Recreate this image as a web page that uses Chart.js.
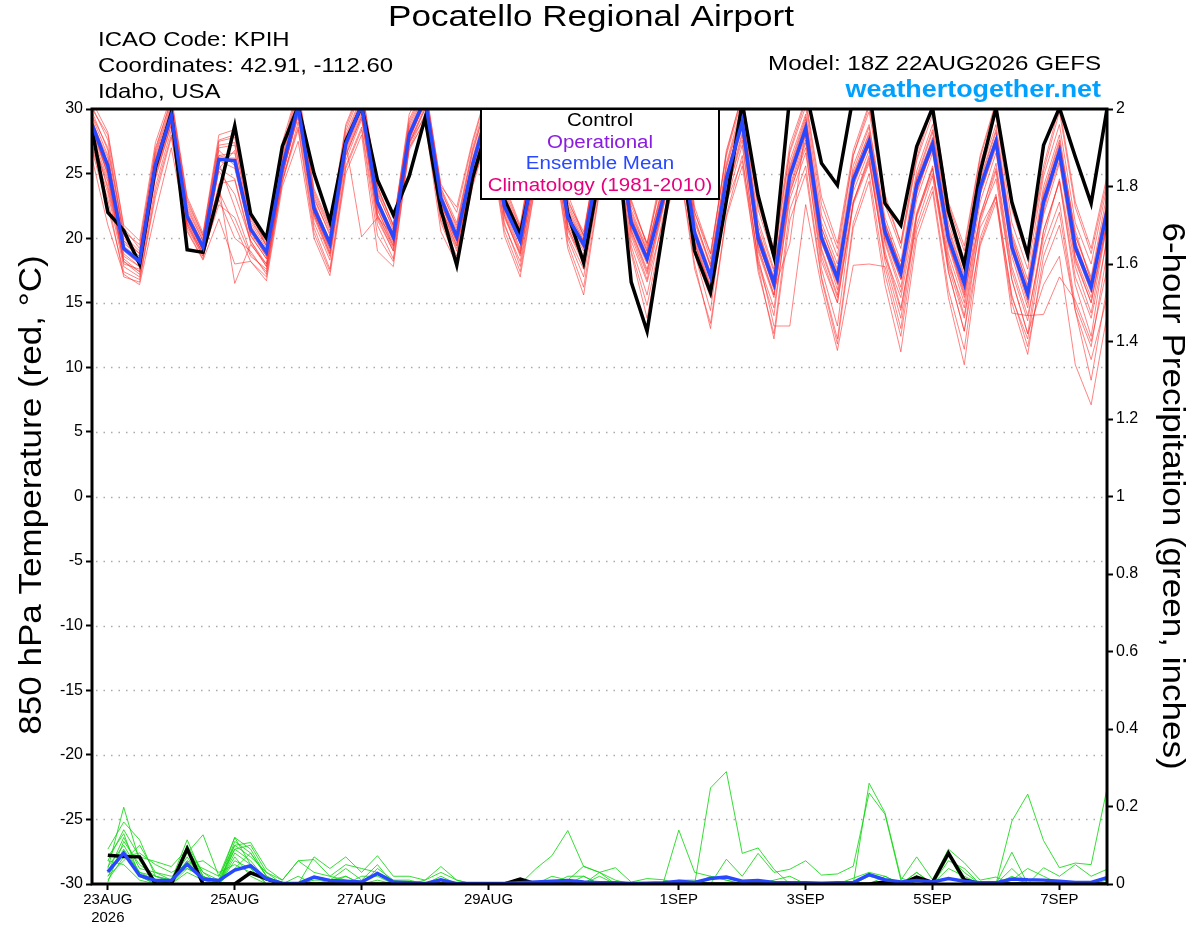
<!DOCTYPE html>
<html>
<head>
<meta charset="utf-8">
<script src="https://cdn.jsdelivr.net/npm/chart.js@4.4.0/dist/chart.umd.min.js"></script>
<style>
body { margin: 0; background: #fff; }
canvas { display: block; }
</style>
</head>
<body>
<canvas id="myChart" width="1200" height="927"></canvas>
<script>
// 6-hourly steps from 18Z 22AUG (step 0) to 18Z 7SEP (step 64)
const dateTickSteps = [1, 9, 17, 25, 37, 45, 53, 61];
const dateTickLabels = [["23AUG", "2026"], "25AUG", "27AUG", "29AUG", "1SEP", "3SEP", "5SEP", "7SEP"];

// 850 hPa temperature (C), steps 0..64
const controlTemp = [28.4,
	22.0, 20.6, 18.0, 25.5, 29.7, 19.1, 18.9, 23.5, 28.7, 21.9, 20.0, 27.1, 30.2, 25.0, 21.3, 27.5,
	30.2, 24.5, 21.8, 24.8, 29.3, 22.2, 17.9, 24.7, 28.8, 23.0, 20.3, 26.0, 29.5, 21.9, 18.1, 25.0,
	29.0, 16.6, 12.8, 20.6, 28.0, 19.0, 15.8, 22.9, 30.5, 23.3, 18.6, 31.0, 31.5, 25.8, 24.1, 31.0,
	31.5, 22.7, 21.0, 27.1, 30.1, 22.1, 17.9, 25.1, 30.1, 22.8, 18.7, 27.2, 30.1, 26.3, 22.7, 30.0];

const meanTemp = [28.8,
	25.6, 19.2, 18.2, 25.7, 29.5, 21.7, 19.3, 26.1, 26.0, 20.7, 18.9, 25.5, 30.2, 22.3, 19.6, 27.3,
	30.3, 22.8, 20.1, 28.0, 30.8, 23.1, 20.1, 25.7, 30.0, 22.5, 19.8, 26.5, 29.5, 21.6, 19.5, 26.0,
	29.2, 21.2, 18.4, 23.0, 28.5, 20.4, 17.0, 24.6, 29.0, 20.0, 16.5, 24.8, 28.5, 20.0, 16.9, 24.5,
	27.5, 20.5, 17.3, 24.1, 27.3, 20.0, 16.5, 23.9, 27.5, 19.3, 15.7, 22.8, 26.7, 19.3, 16.2, 22.1];

const memberTemps = [
	[29.5, 27.0, 20.5, 19.5, 26.8, 30.8, 22.8, 20.2, 27.5, 27.8, 21.8, 19.6, 26.8, 31.2, 23.4, 20.6, 28.3, 31.4, 23.8, 21.0, 29.0, 31.6, 23.9, 21.2, 27.0, 31.2, 23.6, 20.8, 27.8, 30.8, 22.8, 20.5, 27.4, 30.6, 22.5, 19.6, 24.8, 30.2, 22.0, 18.8, 26.4, 30.8, 22.2, 18.4, 26.6, 30.2, 21.8, 18.6, 26.4, 29.8, 22.6, 19.2, 26.0, 29.6, 22.0, 18.4, 25.8, 29.6, 21.2, 17.6, 24.8, 28.8, 21.2, 18.0, 24.0],
	[27.2, 23.5, 17.8, 17.0, 24.0, 28.4, 20.8, 18.6, 24.2, 24.5, 19.6, 17.8, 24.3, 29.0, 21.2, 18.3, 26.0, 29.2, 21.6, 19.0, 27.0, 29.6, 22.0, 19.0, 24.4, 28.8, 21.0, 18.2, 25.0, 28.0, 20.2, 17.6, 24.6, 27.8, 19.8, 16.6, 21.2, 26.8, 18.8, 15.4, 22.8, 27.2, 18.2, 14.6, 23.0, 26.6, 18.2, 15.0, 22.6, 25.8, 18.6, 15.4, 22.0, 25.4, 18.0, 14.6, 21.8, 25.4, 17.4, 13.6, 20.6, 24.4, 17.0, 13.8, 19.8],
	[28.0, 24.6, 18.4, 17.4, 25.0, 29.2, 21.4, 19.0, 25.4, 26.8, 20.4, 18.6, 25.2, 30.0, 22.0, 19.2, 27.0, 30.0, 22.4, 19.8, 27.8, 30.4, 22.8, 19.6, 25.2, 29.6, 22.0, 19.0, 25.8, 29.0, 21.0, 18.6, 25.2, 28.6, 20.6, 17.6, 22.4, 27.8, 19.6, 16.2, 23.6, 28.2, 19.2, 15.6, 23.8, 27.6, 19.0, 15.4, 22.8, 26.4, 19.0, 14.6, 21.0, 24.8, 17.4, 12.8, 19.6, 23.2, 15.6, 11.6, 17.8, 21.0, 14.4, 10.6, 15.4],
	[28.6, 25.0, 19.0, 18.0, 25.4, 29.6, 21.6, 19.4, 26.0, 25.4, 20.2, 18.4, 25.6, 30.4, 22.4, 19.8, 27.6, 30.6, 23.0, 20.4, 28.4, 31.0, 23.4, 20.6, 26.2, 30.6, 22.8, 20.2, 27.0, 30.2, 22.2, 19.8, 26.6, 29.8, 21.8, 19.0, 24.2, 29.6, 21.2, 17.8, 25.4, 29.8, 20.6, 17.0, 25.2, 29.0, 20.8, 17.4, 25.0, 28.0, 21.0, 17.8, 24.0, 26.8, 19.6, 15.6, 21.6, 24.6, 16.8, 12.6, 16.4, 18.6, 10.2, 7.1, 14.0],
	[29.0, 26.2, 19.6, 18.6, 26.2, 30.0, 22.0, 19.6, 24.0, 16.5, 19.5, 18.0, 24.8, 29.8, 22.0, 19.2, 27.2, 30.2, 22.6, 19.8, 27.6, 30.6, 22.6, 20.0, 25.6, 30.2, 22.4, 19.6, 26.4, 29.6, 21.2, 19.0, 26.0, 29.4, 21.4, 18.6, 23.4, 29.0, 20.4, 17.2, 24.8, 29.4, 19.8, 16.0, 19.6, 28.6, 20.2, 16.6, 24.6, 27.8, 20.8, 17.4, 24.6, 27.6, 20.4, 16.6, 24.2, 27.8, 19.6, 15.8, 23.0, 27.2, 19.6, 16.4, 22.4],
	[26.2, 21.0, 17.2, 16.4, 22.0, 27.0, 20.5, 18.3, 21.5, 18.0, 18.2, 16.7, 24.0, 27.5, 20.0, 17.1, 25.0, 28.0, 19.0, 17.8, 27.0, 29.0, 20.5, 18.0, 24.0, 28.2, 20.2, 17.0, 24.4, 27.4, 19.2, 15.6, 23.6, 27.0, 18.8, 13.8, 20.6, 25.8, 17.6, 13.4, 21.8, 26.4, 17.4, 12.6, 22.2, 25.6, 17.0, 12.2, 21.2, 25.0, 17.2, 12.4, 20.6, 24.0, 16.0, 11.4, 20.0, 23.4, 15.4, 12.2, 19.4, 22.8, 14.8, 11.6, 18.8],
	[30.6, 28.2, 21.0, 19.8, 27.4, 31.0, 23.2, 20.4, 28.0, 28.4, 22.0, 19.4, 27.4, 31.6, 23.8, 21.0, 28.8, 31.8, 24.0, 21.0, 29.6, 32.0, 24.0, 22.4, 27.6, 31.8, 24.2, 21.0, 28.4, 31.4, 23.4, 20.2, 27.6, 31.2, 23.0, 19.4, 25.2, 30.8, 22.4, 18.8, 26.6, 31.2, 23.0, 19.2, 27.2, 30.8, 23.2, 19.6, 26.8, 30.4, 23.4, 19.6, 26.6, 30.4, 22.8, 19.4, 26.4, 30.6, 22.6, 18.6, 25.6, 30.2, 22.8, 19.2, 24.8],
	[28.2, 25.0, 18.0, 17.6, 25.0, 29.0, 21.0, 18.8, 22.6, 21.6, 18.6, 17.6, 25.0, 29.6, 21.6, 18.6, 26.8, 29.8, 22.2, 19.4, 27.4, 30.2, 22.4, 19.4, 25.0, 29.2, 21.6, 18.8, 25.4, 28.6, 20.6, 18.0, 24.8, 28.4, 20.2, 16.8, 22.2, 27.6, 19.2, 15.6, 22.8, 26.0, 18.6, 13.2, 13.2, 22.6, 16.2, 11.3, 17.9, 18.0, 17.8, 13.0, 21.6, 25.4, 18.4, 14.0, 21.6, 25.8, 17.8, 14.0, 20.0, 24.6, 17.8, 14.2, 21.0],
	[27.8, 24.0, 18.6, 17.8, 25.6, 29.4, 21.8, 19.0, 26.4, 26.6, 21.0, 19.0, 25.8, 30.2, 22.6, 19.8, 27.4, 20.1, 21.6, 20.2, 28.2, 30.8, 23.0, 20.0, 25.4, 30.0, 22.6, 19.6, 26.8, 29.8, 21.8, 19.6, 26.2, 29.2, 21.2, 18.6, 23.4, 28.6, 20.4, 16.8, 24.8, 29.0, 20.2, 16.6, 25.0, 28.6, 19.8, 16.4, 24.2, 27.2, 20.2, 16.8, 23.6, 27.0, 19.8, 15.8, 23.4, 27.0, 19.0, 15.0, 22.4, 26.0, 18.6, 15.4, 21.2],
	[29.2, 25.8, 19.4, 18.4, 25.8, 29.6, 21.6, 19.2, 26.2, 26.2, 20.8, 19.0, 25.4, 30.0, 22.2, 19.4, 27.2, 30.4, 22.6, 20.0, 28.0, 30.8, 23.2, 20.2, 25.8, 30.2, 22.4, 19.8, 26.4, 29.4, 21.4, 19.4, 25.8, 29.0, 21.0, 18.2, 22.8, 28.2, 20.2, 16.8, 24.4, 28.8, 19.6, 16.2, 24.4, 28.2, 19.6, 16.6, 24.0, 27.2, 20.0, 16.8, 23.8, 27.0, 19.6, 16.0, 23.4, 27.2, 19.2, 15.4, 22.6, 26.4, 19.0, 15.8, 21.8],
	[30.2, 27.6, 20.0, 18.8, 26.6, 30.4, 22.4, 19.8, 27.0, 27.2, 21.2, 19.2, 26.2, 30.8, 23.0, 20.4, 27.8, 30.8, 23.4, 20.8, 28.8, 31.4, 23.6, 21.0, 26.6, 31.0, 23.2, 20.6, 27.4, 30.6, 22.6, 20.2, 27.0, 30.2, 22.2, 19.2, 24.0, 29.8, 21.4, 18.0, 25.8, 30.4, 21.4, 17.6, 26.0, 29.6, 21.2, 18.0, 25.6, 28.8, 21.6, 18.2, 25.2, 28.8, 21.2, 17.6, 25.0, 28.8, 20.4, 16.8, 24.0, 28.0, 20.2, 17.0, 23.4],
	[26.8, 22.4, 17.4, 16.8, 23.2, 27.8, 21.0, 18.6, 23.0, 20.0, 19.0, 17.2, 24.6, 28.6, 20.8, 17.6, 25.6, 28.6, 21.0, 18.4, 27.4, 29.4, 21.4, 18.6, 24.4, 28.6, 21.2, 17.8, 25.0, 28.2, 20.0, 17.0, 24.2, 27.4, 19.4, 15.6, 21.6, 26.6, 18.8, 14.4, 23.4, 27.6, 18.0, 14.0, 23.6, 27.0, 17.6, 13.2, 22.8, 26.2, 18.2, 13.8, 21.8, 25.6, 17.4, 12.8, 21.2, 25.2, 16.8, 12.6, 20.6, 24.4, 16.4, 12.4, 20.2],
	[28.4, 25.2, 19.8, 18.8, 26.0, 29.8, 22.2, 19.8, 26.8, 25.6, 20.2, 18.4, 26.0, 30.6, 22.8, 19.6, 27.0, 30.0, 21.8, 19.4, 27.6, 30.6, 22.2, 19.8, 25.4, 30.4, 23.0, 20.4, 26.8, 30.0, 22.0, 19.8, 26.4, 29.6, 21.6, 18.8, 23.6, 28.8, 20.8, 17.4, 25.0, 29.4, 20.4, 16.8, 25.4, 29.2, 20.4, 17.2, 24.8, 28.2, 21.2, 17.8, 24.6, 28.2, 20.6, 17.0, 24.6, 28.4, 20.0, 16.4, 23.6, 27.6, 20.2, 16.8, 22.8],
	[27.6, 24.4, 18.2, 17.2, 24.6, 28.8, 21.2, 18.8, 25.2, 23.4, 19.8, 18.0, 25.0, 29.4, 21.8, 18.8, 26.4, 29.4, 21.4, 19.0, 27.2, 30.0, 22.0, 19.2, 24.8, 29.4, 21.8, 18.6, 25.4, 28.8, 20.8, 18.2, 25.0, 28.4, 20.4, 17.2, 22.4, 27.4, 19.6, 16.0, 23.2, 28.0, 19.0, 15.4, 23.4, 27.4, 18.6, 15.0, 22.8, 26.0, 18.6, 14.4, 21.8, 25.0, 17.8, 13.8, 20.8, 23.2, 14.2, 14.0, 14.1, 17.0, 15.2, 12.0, 17.6],
	[29.8, 26.8, 20.2, 19.0, 26.4, 30.2, 22.6, 20.0, 27.2, 27.4, 21.4, 19.4, 26.4, 31.0, 23.2, 20.2, 28.0, 31.0, 23.6, 20.6, 28.6, 31.2, 23.8, 20.8, 26.8, 30.8, 23.4, 20.6, 27.6, 30.4, 22.4, 20.0, 27.2, 30.0, 22.0, 19.0, 23.8, 29.4, 21.6, 17.8, 25.6, 30.0, 21.0, 17.4, 25.6, 29.4, 20.8, 17.6, 25.2, 28.6, 21.2, 17.6, 24.8, 28.4, 20.8, 17.2, 24.4, 28.2, 20.2, 16.2, 23.4, 27.4, 20.6, 16.6, 22.6],
	[28.8, 24.8, 18.8, 17.8, 25.2, 29.2, 21.4, 19.0, 25.8, 22.4, 18.8, 17.4, 25.2, 29.8, 22.0, 19.0, 26.6, 29.6, 22.2, 19.6, 27.8, 30.4, 22.6, 19.8, 25.6, 29.8, 22.2, 19.2, 26.2, 29.4, 21.4, 19.2, 26.0, 29.0, 20.8, 18.0, 23.0, 28.4, 20.0, 16.4, 24.2, 29.2, 20.4, 16.2, 24.6, 28.4, 20.0, 16.0, 24.4, 27.6, 19.8, 16.2, 23.4, 27.2, 19.4, 15.4, 23.6, 27.6, 19.6, 15.2, 22.0, 26.8, 18.4, 15.0, 21.0],
	[27.0, 23.0, 17.0, 16.6, 23.6, 28.0, 20.6, 18.4, 23.6, 21.0, 18.2, 17.0, 24.4, 28.4, 20.4, 17.4, 25.4, 28.4, 20.2, 18.2, 26.8, 29.2, 21.2, 18.2, 24.2, 28.4, 20.6, 17.4, 24.6, 27.6, 19.6, 16.2, 23.8, 26.8, 19.0, 14.8, 20.8, 26.0, 18.0, 13.0, 21.6, 25.6, 17.8, 12.2, 21.4, 25.0, 16.8, 11.8, 20.8, 24.4, 16.4, 11.2, 20.0, 23.6, 15.4, 10.2, 19.4, 22.8, 15.0, 11.0, 18.6, 22.0, 14.4, 9.0, 16.2],
	[29.4, 26.4, 19.8, 18.4, 25.6, 29.4, 21.8, 19.4, 26.4, 26.0, 20.6, 18.6, 25.6, 30.2, 22.6, 19.6, 27.4, 30.6, 23.0, 20.2, 28.2, 30.8, 23.2, 20.4, 26.0, 30.4, 22.8, 20.0, 26.6, 29.8, 21.8, 19.6, 26.4, 29.4, 21.6, 18.6, 23.2, 28.8, 20.6, 17.2, 24.8, 29.4, 20.6, 16.8, 25.0, 28.8, 20.2, 17.0, 24.6, 27.8, 20.8, 17.4, 24.2, 27.8, 20.2, 16.6, 24.0, 27.8, 19.8, 16.0, 23.2, 27.0, 19.8, 16.4, 22.4],
	[28.0, 23.8, 18.2, 17.4, 24.8, 28.8, 21.2, 18.8, 25.4, 24.6, 19.8, 17.8, 24.8, 29.6, 21.8, 18.8, 26.4, 29.4, 21.8, 19.2, 27.4, 30.0, 22.2, 19.4, 25.0, 29.4, 21.8, 18.8, 25.6, 29.0, 20.8, 18.2, 25.4, 28.8, 20.6, 17.4, 22.6, 28.0, 19.8, 16.2, 24.0, 28.6, 19.4, 15.6, 24.0, 28.0, 19.2, 15.6, 23.6, 26.8, 19.6, 15.8, 23.0, 26.6, 18.8, 15.0, 22.8, 26.6, 18.6, 14.6, 21.8, 25.8, 18.2, 15.0, 21.4],
	[30.0, 28.0, 20.8, 19.2, 27.0, 30.6, 23.0, 20.2, 27.6, 28.0, 21.6, 19.4, 27.0, 31.4, 23.6, 20.8, 28.6, 31.6, 24.0, 21.0, 29.2, 31.8, 24.2, 22.0, 27.4, 31.6, 24.0, 20.8, 28.0, 31.0, 23.0, 20.2, 27.8, 31.0, 22.8, 19.6, 25.6, 30.6, 22.0, 18.4, 26.8, 31.0, 22.6, 18.8, 26.8, 30.6, 22.6, 19.2, 26.4, 30.2, 23.0, 19.6, 26.2, 30.2, 22.6, 19.0, 26.2, 30.4, 22.2, 18.4, 25.2, 29.8, 22.4, 18.8, 24.4]
];

// 6-hour precipitation (inches), steps 1..64
const controlPrecip = [
	0.074, 0.071, 0.070, 0, 0, 0.091, 0, 0, 0, 0.029, 0.013, 0, 0, 0, 0, 0,
	0, 0, 0, 0, 0, 0, 0, 0, 0, 0, 0.013, 0, 0, 0, 0, 0,
	0, 0, 0, 0, 0, 0, 0, 0, 0, 0, 0, 0, 0, 0, 0, 0,
	0, 0.005, 0, 0.018, 0.004, 0.080, 0.011, 0, 0, 0, 0, 0, 0, 0, 0, 0];

const meanPrecip = [
	0.031, 0.080, 0.022, 0.009, 0.009, 0.051, 0.013, 0.009, 0.036, 0.047, 0.013, 0.002, 0.001, 0.018, 0.009, 0.007,
	0.005, 0.027, 0.005, 0.003, 0.001, 0.011, 0.001, 0.001, 0.001, 0.001, 0.003, 0.005, 0.007, 0.009, 0.005, 0.003,
	0.003, 0.001, 0.002, 0.003, 0.007, 0.004, 0.014, 0.018, 0.007, 0.009, 0.004, 0.003, 0.003, 0.002, 0.003, 0.004,
	0.024, 0.011, 0.005, 0.009, 0.005, 0.014, 0.007, 0.003, 0.003, 0.013, 0.011, 0.010, 0.007, 0.004, 0.004, 0.016];

const memberPrecip = [
	[0.04, 0.198, 0.06, 0.01, 0, 0.08, 0.127, 0.02, 0.12, 0.05, 0.01, 0, 0, 0.02, 0.01, 0, 0, 0.01, 0, 0, 0, 0, 0, 0, 0, 0, 0, 0, 0, 0, 0, 0, 0, 0, 0, 0, 0.139, 0.03, 0.02, 0.01, 0, 0, 0, 0, 0, 0, 0, 0, 0.26, 0.184, 0.016, 0, 0, 0, 0, 0, 0, 0, 0, 0, 0, 0, 0, 0],
	[0.09, 0.16, 0.114, 0.02, 0.01, 0.114, 0.02, 0, 0.1, 0.107, 0.04, 0.01, 0.06, 0.063, 0.02, 0.01, 0, 0, 0, 0, 0, 0, 0, 0, 0, 0, 0, 0.04, 0.073, 0.138, 0.045, 0.03, 0.042, 0.005, 0.014, 0.011, 0, 0, 0, 0, 0, 0, 0, 0, 0, 0, 0, 0, 0, 0, 0, 0, 0, 0, 0, 0, 0, 0, 0, 0, 0, 0, 0, 0],
	[0.06, 0.14, 0.07, 0.058, 0.045, 0.09, 0.03, 0.01, 0.12, 0.09, 0.02, 0, 0, 0.07, 0.04, 0.07, 0.03, 0.073, 0.02, 0.02, 0.01, 0.045, 0.01, 0, 0, 0, 0, 0, 0, 0.02, 0.02, 0, 0, 0, 0, 0, 0, 0, 0.248, 0.29, 0.079, 0.093, 0.038, 0, 0, 0, 0, 0, 0, 0, 0, 0, 0, 0, 0, 0, 0, 0.082, 0, 0, 0, 0, 0, 0],
	[0.03, 0.12, 0.04, 0.03, 0.01, 0.06, 0.04, 0.02, 0.1, 0.07, 0.03, 0.01, 0.06, 0.03, 0.02, 0.05, 0.04, 0.03, 0.01, 0, 0.01, 0.03, 0.01, 0, 0, 0, 0, 0, 0.02, 0.01, 0.046, 0.03, 0, 0, 0, 0, 0, 0, 0, 0.064, 0.02, 0.079, 0.03, 0.038, 0.06, 0.023, 0.026, 0.046, 0.235, 0.18, 0.01, 0.07, 0.011, 0.09, 0.055, 0.01, 0.018, 0, 0, 0, 0, 0, 0, 0],
	[0.02, 0.09, 0.03, 0.01, 0, 0.04, 0.018, 0.01, 0.09, 0.06, 0.01, 0, 0, 0.01, 0.01, 0.04, 0.01, 0.05, 0, 0, 0, 0, 0, 0, 0, 0, 0, 0, 0, 0, 0, 0, 0, 0, 0, 0, 0, 0, 0, 0, 0, 0, 0, 0, 0, 0, 0, 0, 0, 0, 0, 0, 0, 0, 0, 0, 0, 0.162, 0.232, 0.112, 0.042, 0.054, 0.05, 0.246],
	[0.005, 0.11, 0.05, 0.02, 0.01, 0.07, 0.01, 0, 0.08, 0.05, 0, 0, 0, 0, 0, 0.02, 0, 0, 0, 0, 0, 0, 0, 0, 0, 0, 0, 0, 0, 0, 0.02, 0, 0, 0, 0, 0, 0, 0, 0.02, 0.01, 0, 0, 0, 0, 0, 0, 0, 0, 0, 0.02, 0, 0.03, 0, 0.06, 0.04, 0, 0, 0.04, 0, 0.042, 0.02, 0.05, 0.02, 0.038],
	[0.07, 0.13, 0.02, 0, 0, 0.1, 0.03, 0, 0.11, 0.08, 0.02, 0, 0.02, 0, 0, 0, 0.02, 0.02, 0, 0, 0, 0.02, 0, 0, 0, 0, 0, 0, 0, 0, 0, 0.03, 0.01, 0, 0, 0, 0.01, 0.01, 0, 0, 0, 0.01, 0, 0, 0, 0, 0, 0, 0, 0, 0, 0.02, 0, 0.075, 0, 0, 0, 0, 0.01, 0.01, 0, 0, 0, 0],
	[0.01, 0.07, 0.08, 0.05, 0.03, 0.05, 0.06, 0.03, 0.05, 0.03, 0.01, 0, 0, 0, 0, 0, 0, 0, 0, 0, 0, 0, 0, 0, 0, 0, 0, 0, 0, 0, 0, 0, 0, 0, 0, 0, 0, 0, 0, 0, 0, 0, 0.01, 0.02, 0, 0, 0, 0, 0, 0, 0, 0, 0, 0, 0, 0, 0, 0, 0, 0, 0, 0, 0, 0.01],
	[0.045, 0.1, 0.03, 0.02, 0.005, 0.09, 0.02, 0, 0.09, 0.1, 0.03, 0, 0, 0, 0.01, 0.02, 0, 0.04, 0.01, 0.01, 0, 0, 0, 0, 0, 0, 0, 0, 0, 0, 0, 0, 0, 0, 0, 0, 0, 0, 0, 0, 0, 0, 0, 0, 0, 0, 0, 0, 0.02, 0.01, 0, 0.03, 0, 0.07, 0.03, 0, 0, 0.01, 0.04, 0.02, 0, 0, 0, 0],
	[0.03, 0.08, 0.02, 0, 0, 0.06, 0.02, 0, 0.06, 0.04, 0, 0, 0, 0, 0, 0, 0, 0, 0, 0, 0, 0, 0, 0, 0, 0, 0, 0, 0, 0, 0, 0, 0, 0, 0, 0, 0, 0, 0, 0, 0, 0, 0, 0, 0, 0, 0, 0, 0, 0, 0, 0, 0, 0, 0, 0, 0, 0, 0, 0, 0, 0, 0, 0],
	[0.06, 0.05, 0.01, 0, 0, 0.03, 0.01, 0, 0.07, 0.02, 0, 0, 0, 0, 0, 0, 0, 0, 0, 0, 0, 0, 0, 0, 0, 0, 0, 0, 0, 0, 0, 0.02, 0, 0, 0, 0, 0, 0, 0, 0, 0, 0, 0, 0, 0, 0, 0, 0.015, 0.03, 0.02, 0, 0.02, 0, 0.04, 0.02, 0, 0, 0.02, 0, 0, 0, 0, 0, 0],
	[0.02, 0.06, 0.1, 0.03, 0.02, 0.04, 0.02, 0, 0.04, 0.08, 0.02, 0, 0, 0, 0, 0, 0, 0, 0, 0, 0, 0, 0, 0, 0, 0, 0, 0, 0, 0, 0, 0, 0, 0, 0, 0, 0, 0, 0, 0, 0, 0, 0, 0, 0, 0, 0, 0, 0, 0, 0, 0, 0, 0, 0, 0, 0, 0, 0, 0, 0, 0, 0, 0]
];

window.addEventListener(
	"load",
	function () {
		const FONT = "'Liberation Sans', Arial, Helvetica, sans-serif";
		const PLOT = { left: 92, right: 1107, top: 109, bottom: 884 };

		const tempPoints = (arr) => arr.map((v, i) => ({ x: i, y: v }));
		const precipPoints = (arr) => arr.map((v, i) => ({ x: i + 1, y: v }));

		const datasets = [];
		datasets.push({ label: "Ensemble Mean", data: tempPoints(meanTemp), yAxisID: "y", borderColor: "#2848ff", borderWidth: 3.5, order: 0 });
		datasets.push({ label: "Control", data: tempPoints(controlTemp), yAxisID: "y", borderColor: "#000000", borderWidth: 3.5, order: 1 });
		datasets.push({ label: "Mean precip", data: precipPoints(meanPrecip), yAxisID: "y1", borderColor: "#2848ff", borderWidth: 3.5, order: 2 });
		datasets.push({ label: "Control precip", data: precipPoints(controlPrecip), yAxisID: "y1", borderColor: "#000000", borderWidth: 3.5, order: 3 });
		memberTemps.forEach(function (m, k) {
			datasets.push({ label: "m" + k, data: tempPoints(m), yAxisID: "y", borderColor: "rgba(255, 50, 50, 0.6)", borderWidth: 1, order: 4 });
		});
		memberPrecip.forEach(function (m, k) {
			datasets.push({ label: "p" + k, data: precipPoints(m), yAxisID: "y1", borderColor: "rgba(20, 215, 20, 0.85)", borderWidth: 1, order: 5 });
		});

		// text drawn a little wider than Liberation Sans, like the original renderer
		function wideText(ctx, text, x, y, sx) {
			ctx.save();
			ctx.translate(x, y);
			ctx.scale(sx, 1);
			ctx.fillText(text, 0, 0);
			ctx.restore();
		}

		const decorations = {
			id: "decorations",
			beforeDatasetsDraw(chart) {
				const ctx = chart.ctx;
				const y = chart.scales.y;
				const a = chart.chartArea;
				ctx.save();
				ctx.strokeStyle = "#aaaaaa";
				ctx.lineWidth = 1.5;
				ctx.setLineDash([1.5, 6]);
				for (let v = -25; v <= 25; v += 5) {
					const py = Math.round(y.getPixelForValue(v)) + 0.5;
					ctx.beginPath();
					ctx.moveTo(a.left + 4, py);
					ctx.lineTo(a.right, py);
					ctx.stroke();
				}
				ctx.restore();
			},
			afterDatasetsDraw(chart) {
				const ctx = chart.ctx;
				const a = chart.chartArea;
				ctx.save();
				// frame
				ctx.strokeStyle = "#000";
				ctx.lineWidth = 3;
				ctx.strokeRect(a.left, a.top, a.right - a.left, a.bottom - a.top);

				// legend box
				ctx.fillStyle = "#fff";
				ctx.fillRect(481, 109, 238, 90);
				ctx.lineWidth = 2;
				ctx.strokeRect(481, 109, 238, 90);
				ctx.textAlign = "center";
				ctx.textBaseline = "middle";
				ctx.font = "18px " + FONT;
				const legendRows = [["Control", "#000000"], ["Operational", "#8a1be0"], ["Ensemble Mean", "#2848ff"], ["Climatology (1981-2010)", "#e6007e"]];
				legendRows.forEach(function (r, i) {
					ctx.fillStyle = r[1];
					wideText(ctx, r[0], 600, 121 + i * 21.7, 1.14);
				});

				// titles
				ctx.fillStyle = "#000";
				ctx.font = "30px " + FONT;
				wideText(ctx, "Pocatello Regional Airport", 591, 18, 1.17);
				ctx.textAlign = "left";
				ctx.font = "21px " + FONT;
				wideText(ctx, "ICAO Code: KPIH", 98, 40, 1.14);
				wideText(ctx, "Coordinates: 42.91, -112.60", 98, 66, 1.14);
				wideText(ctx, "Idaho, USA", 98, 92, 1.14);
				ctx.textAlign = "right";
				wideText(ctx, "Model: 18Z 22AUG2026 GEFS", 1101, 64, 1.15);
				ctx.fillStyle = "#00a0ff";
				ctx.font = "bold 24px " + FONT;
				wideText(ctx, "weathertogether.net", 1101, 90, 1.12);

				// axis titles
				ctx.fillStyle = "#000";
				ctx.font = "31px " + FONT;
				ctx.textAlign = "center";
				ctx.save();
				ctx.translate(32, 495);
				ctx.rotate(-Math.PI / 2);
				wideText(ctx, "850 hPa Temperature (red, \u00B0C)", 0, 0, 1.13);
				ctx.restore();
				ctx.save();
				ctx.translate(1172, 496);
				ctx.rotate(Math.PI / 2);
				wideText(ctx, "6-hour Precipitation (green, inches)", 0, 0, 1.13);
				ctx.restore();
				ctx.restore();
			},
		};

		const tickFont = { family: FONT, size: 16 };

		const config = {
			type: "line",
			data: { datasets: datasets },
			options: {
				responsive: false,
				animation: false,
				events: [],
				layout: { padding: { top: PLOT.top, left: 0, right: 0, bottom: 0 } },
				elements: {
					point: { radius: 0 },
					line: { tension: 0, borderJoinStyle: "miter", borderCapStyle: "butt" },
				},
				plugins: {
					legend: { display: false },
					tooltip: { enabled: false },
				},
				scales: {
					x: {
						type: "linear",
						min: 0,
						max: 64,
						afterBuildTicks(scale) {
							scale.ticks = dateTickSteps.map((v) => ({ value: v }));
						},
						afterFit(scale) {
							scale.height = 927 - PLOT.bottom;
						},
						ticks: {
							autoSkip: false,
							maxRotation: 0,
							padding: 1,
							color: "#000",
							font: { family: FONT, size: 15 },
							callback: (value) => dateTickLabels[dateTickSteps.indexOf(value)],
						},
						grid: { drawOnChartArea: false, drawTicks: true, tickLength: 6, tickWidth: 2, tickColor: "#000" },
						border: { display: false },
					},
					y: {
						position: "left",
						min: -30,
						max: 30,
						ticks: { stepSize: 5, color: "#000", font: tickFont, padding: 3 },
						afterFit(scale) {
							scale.width = PLOT.left;
						},
						grid: { drawOnChartArea: false, drawTicks: true, tickLength: 6, tickWidth: 2, tickColor: "#000" },
						border: { display: false },
					},
					y1: {
						position: "right",
						min: 0,
						max: 2,
						ticks: {
							stepSize: 0.2,
							color: "#000",
							font: tickFont,
							padding: 3,
							callback: (value) => String(Number(value.toFixed(1))),
						},
						afterFit(scale) {
							scale.width = 1200 - PLOT.right;
						},
						grid: { drawOnChartArea: false, drawTicks: true, tickLength: 6, tickWidth: 2, tickColor: "#000" },
						border: { display: false },
					},
				},
			},
			plugins: [decorations],
		};

		const myChart = new Chart(document.getElementById("myChart"), config);
	},
	false
);
</script>
</body>
</html>
